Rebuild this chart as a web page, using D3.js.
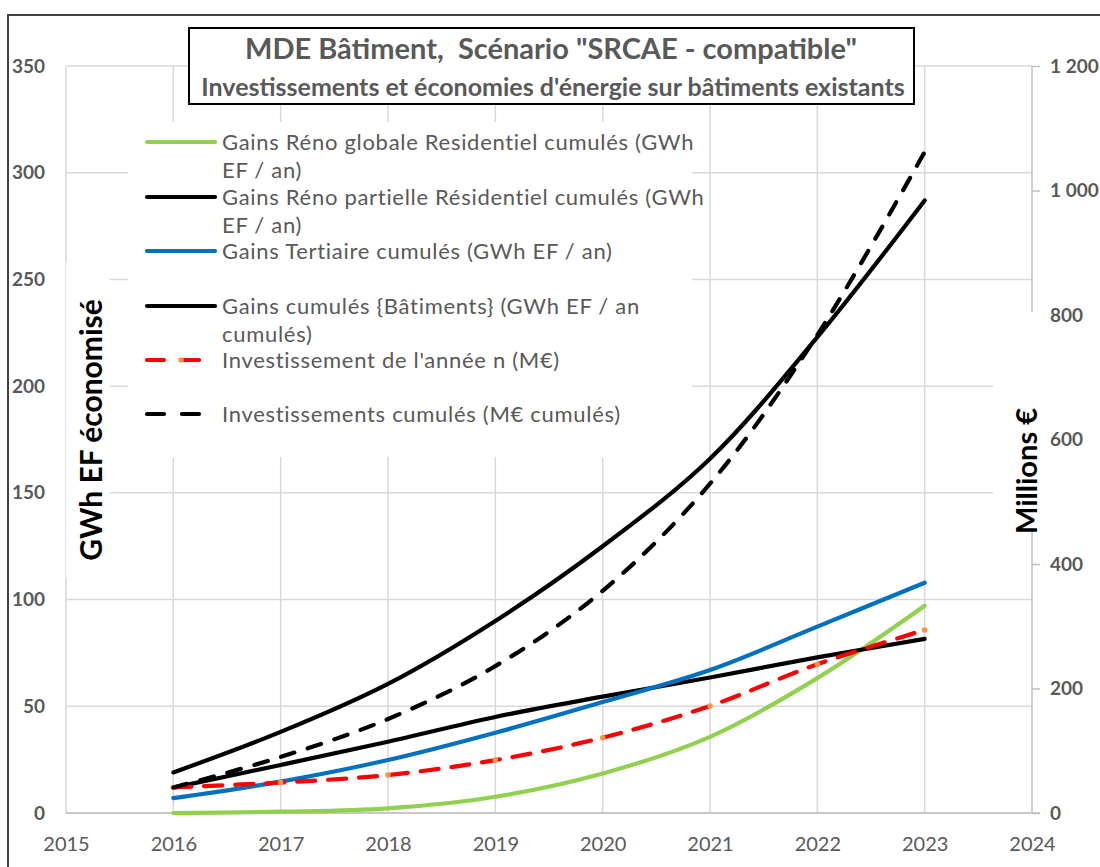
<!DOCTYPE html>
<html>
<head>
<meta charset="utf-8">
<script src="https://cdn.jsdelivr.net/npm/d3@7"></script>
<style>
  body { margin: 0; background: #fff; }
  svg { display: block; font-family: Lato, "Open Sans", sans-serif; }
</style>
</head>
<body>
<svg id="chart" width="1100" height="867"></svg>
<script>
// data
var years = [2016, 2017, 2018, 2019, 2020, 2021, 2022, 2023];
var renoGlobale = [0, 0.6, 2.2, 7.6, 18.5, 35.7, 63.2, 97.1];
var renoPartielle = [11.9, 22.5, 33.4, 45.0, 54.5, 63.5, 72.9, 81.6];
var tertiaire = [7.0, 14.7, 24.8, 37.6, 52.0, 67.0, 87.3, 107.9];
var gainsBatiments = [19, 38, 60.5, 90, 125, 166, 223, 287];
var investAnnee = [41, 49, 61, 85, 121, 172, 239, 294];
var investCumules = [41, 90, 151, 236, 357, 529, 768, 1062];

var xTicks = [2015, 2016, 2017, 2018, 2019, 2020, 2021, 2022, 2023, 2024];
var leftTicks = [0, 50, 100, 150, 200, 250, 300, 350];
var rightTicks = [0, 200, 400, 600, 800, 1000, 1200];

var series = [
  {name: ["Gains Réno globale Residentiel cumulés (GWh", "EF / an)"], values: renoGlobale, axis: "L", color: "#92D050", dash: null},
  {name: ["Gains Réno partielle Résidentiel cumulés (GWh", "EF / an)"], values: renoPartielle, axis: "L", color: "#000000", dash: null},
  {name: ["Gains Tertiaire cumulés (GWh EF / an)"], values: tertiaire, axis: "L", color: "#0070C0", dash: null},
  {name: ["Gains cumulés {Bâtiments} (GWh EF / an", "cumulés)"], values: gainsBatiments, axis: "L", color: "#000000", dash: null},
  {name: ["Investissement de l'année n (M€)"], values: investAnnee, axis: "R", color: "#FF0000", dash: "18,13", marker: "#F79646"},
  {name: ["Investissements cumulés (M€ cumulés)"], values: investCumules, axis: "R", color: "#000000", dash: "14,14"}
];

var svg = d3.select("#chart");
var grey = "#595959";

var x = d3.scaleLinear().domain([2015, 2024]).range([66, 1032]);
var yL = d3.scaleLinear().domain([0, 350]).range([813, 66]);
var yR = d3.scaleLinear().domain([0, 1200]).range([813, 66]);

// outer frame
svg.append("rect").attr("x", 8).attr("y", 15).attr("width", 1120).attr("height", 900)
  .attr("fill", "#fff").attr("stroke", "#404040").attr("stroke-width", 2);

// gridlines
svg.append("g").selectAll("line").data(leftTicks).join("line")
  .attr("x1", 66).attr("x2", 1032)
  .attr("y1", function(d) { return yL(d); }).attr("y2", function(d) { return yL(d); })
  .attr("stroke", "#D9D9D9").attr("stroke-width", 1.5);
svg.append("g").selectAll("line").data(xTicks.slice(0, -1)).join("line")
  .attr("x1", function(d) { return x(d); }).attr("x2", function(d) { return x(d); })
  .attr("y1", 66).attr("y2", 813)
  .attr("stroke", "#D9D9D9").attr("stroke-width", 1.5);

// axes
var frLocale = d3.formatLocale({decimal: ",", thousands: "\u00a0", grouping: [3], currency: ["", " €"]});

var bottomAxis = svg.append("g").attr("transform", "translate(0,813)")
  .call(d3.axisBottom(x).tickValues(xTicks).tickFormat(d3.format("d")).tickSize(0).tickPadding(24));
bottomAxis.select(".domain").attr("d", "M66,0H1040").attr("stroke", "#BFBFBF").attr("stroke-width", 1.5);
bottomAxis.selectAll("text").attr("fill", grey).attr("font-size", 20).attr("font-family", "Lato");

var leftAxis = svg.append("g").attr("transform", "translate(66,0)")
  .call(d3.axisLeft(yL).tickValues(leftTicks).tickSize(0).tickPadding(21));
leftAxis.select(".domain").remove();
leftAxis.selectAll("text").attr("fill", grey).attr("font-size", 19).attr("font-weight", "bold").attr("font-family", "Lato");

var rightAxis = svg.append("g").attr("transform", "translate(1032,0)")
  .call(d3.axisRight(yR).tickValues(rightTicks).tickFormat(frLocale.format(",")).tickSize(8).tickPadding(10));
rightAxis.select(".domain").attr("d", "M0,66V813").attr("stroke", "#BFBFBF").attr("stroke-width", 1.5);
rightAxis.selectAll("line").attr("stroke", "#BFBFBF").attr("stroke-width", 1.5);
rightAxis.selectAll("text").attr("fill", grey).attr("font-size", 19).attr("font-weight", "bold").attr("font-family", "Lato");

// series
var line = d3.line().curve(d3.curveCatmullRom.alpha(0.5));
var plot = svg.append("g");
series.forEach(function(s) {
  var y = s.axis === "L" ? yL : yR;
  var pts = years.map(function(yr, i) { return [x(yr), y(s.values[i])]; });
  plot.append("path").attr("d", line(pts))
    .attr("fill", "none").attr("stroke", s.color).attr("stroke-width", 4.2)
    .attr("stroke-linecap", "round")
    .attr("stroke-dasharray", s.dash);
  if (s.marker) {
    plot.append("g").selectAll("circle").data(pts).join("circle")
      .attr("cx", function(d) { return d[0]; }).attr("cy", function(d) { return d[1]; })
      .attr("r", 2.8).attr("fill", s.marker);
  }
});

// title box
svg.append("rect").attr("x", 189).attr("y", 28).attr("width", 725).attr("height", 76)
  .attr("fill", "#fff").attr("stroke", "#000").attr("stroke-width", 2);
svg.append("text").attr("x", 551).attr("y", 59).attr("text-anchor", "middle")
  .attr("font-size", 29).attr("font-weight", "bold").attr("fill", grey)
  .style("white-space", "pre")
  .text("MDE Bâtiment,  Scénario \"SRCAE - compatible\"");
svg.append("text").attr("x", 553).attr("y", 96).attr("text-anchor", "middle")
  .attr("font-size", 25).attr("font-weight", "bold").attr("fill", grey)
  .text("Investissements et économies d'énergie sur bâtiments existants");

// legend
var legend = svg.append("g");
legend.append("rect").attr("x", 128).attr("y", 122).attr("width", 564).attr("height", 335).attr("fill", "#fff");
var legendY = [142, 197, 251, 306, 360, 414];
series.forEach(function(s, i) {
  var ly = legendY[i];
  legend.append("line").attr("x1", 147).attr("x2", 215).attr("y1", ly).attr("y2", ly)
    .attr("stroke", s.color).attr("stroke-width", 4.2).attr("stroke-linecap", "round")
    .attr("stroke-dasharray", s.dash ? "17,18" : null);
  if (s.marker) {
    legend.append("circle").attr("cx", 181).attr("cy", ly).attr("r", 2.8).attr("fill", s.marker);
  }
  s.name.forEach(function(t, j) {
    legend.append("text").attr("x", 222).attr("y", ly + j * 28).attr("dy", "0.35em")
      .attr("font-size", 22).attr("letter-spacing", 0.7).attr("fill", grey).text(t);
  });
});

// axis titles
svg.append("rect").attr("x", 66).attr("y", 262).attr("width", 44).attr("height", 316).attr("fill", "#fff");
svg.append("text").attr("transform", "translate(102,430) rotate(-90)").attr("text-anchor", "middle")
  .attr("font-size", 30).attr("font-weight", "bold").attr("fill", "#000").text("GWh EF économisé");
svg.append("rect").attr("x", 993).attr("y", 312).attr("width", 48).attr("height", 216).attr("fill", "#fff");
svg.append("text").attr("transform", "translate(1037,471) rotate(-90)").attr("text-anchor", "middle")
  .attr("font-size", 29).attr("font-weight", "bold").attr("fill", "#000").text("Millions €");
</script>
</body>
</html>
